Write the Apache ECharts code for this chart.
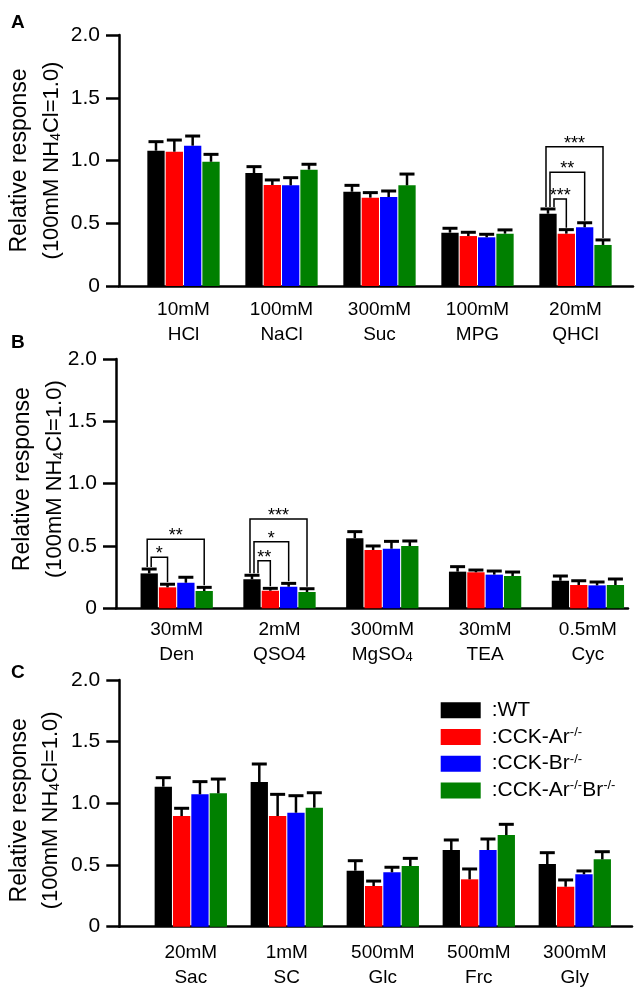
<!DOCTYPE html>
<html><head><meta charset="utf-8">
<script src="https://cdn.jsdelivr.net/npm/echarts@6/dist/echarts.min.js"></script>
<style>html,body{margin:0;padding:0;background:#fff}#c{width:638px;height:993px}</style>
</head><body><div id="c"></div>
<script>
// ---------- DATA ----------
const groupNames = ['WT', 'CCK-Ar-/-', 'CCK-Br-/-', 'CCK-Ar-/-Br-/-'];
const yTickLabels = ['0', '0.5', '1.0', '1.5', '2.0'];

const catsA = ['10mM\nHCl', '100mM\nNaCl', '300mM\nSuc', '100mM\nMPG', '20mM\nQHCl'];
const meansA = [
  [1.078, 0.900, 0.751, 0.425, 0.576],
  [1.070, 0.805, 0.704, 0.398, 0.417],
  [1.118, 0.802, 0.709, 0.388, 0.468],
  [0.990, 0.927, 0.802, 0.417, 0.327]
];
const semA = [
  [0.072, 0.051, 0.051, 0.035, 0.038],
  [0.093, 0.040, 0.040, 0.030, 0.032],
  [0.077, 0.061, 0.048, 0.024, 0.036],
  [0.059, 0.043, 0.090, 0.030, 0.040]
];
// brackets: category index, compared group (vs WT), bracket height, label
const brCatA = [4, 4, 4];
const brGroupA = [3, 2, 1];
const brTopA = [1.11, 0.906, 0.693];
const brLabelA = ['***', '**', '***'];

const catsB = ['30mM\nDen', '2mM\nQSO4', '300mM\nMgSO_4', '30mM\nTEA', '0.5mM\nCyc'];
const meansB = [
  [0.280, 0.233, 0.562, 0.294, 0.221],
  [0.168, 0.141, 0.468, 0.289, 0.187],
  [0.205, 0.173, 0.478, 0.270, 0.184],
  [0.139, 0.131, 0.500, 0.259, 0.187]
];
const semB = [
  [0.035, 0.032, 0.053, 0.040, 0.038],
  [0.025, 0.019, 0.032, 0.018, 0.034],
  [0.044, 0.027, 0.059, 0.029, 0.027],
  [0.029, 0.026, 0.040, 0.032, 0.048]
];
const brCatB = [0, 0, 1, 1, 1];
const brGroupB = [3, 1, 3, 2, 1];
const brTopB = [0.554, 0.409, 0.716, 0.534, 0.382];
const brLabelB = ['**', '*', '***', '*', '**'];

const catsC = ['20mM\nSac', '1mM\nSC', '500mM\nGlc', '500mM\nFrc', '300mM\nGly'];
const meansC = [
  [1.135, 1.173, 0.454, 0.622, 0.508],
  [0.897, 0.897, 0.330, 0.384, 0.324],
  [1.073, 0.924, 0.441, 0.622, 0.425],
  [1.081, 0.965, 0.492, 0.743, 0.546]
];
const semC = [
  [0.073, 0.146, 0.081, 0.081, 0.092],
  [0.063, 0.176, 0.040, 0.084, 0.055],
  [0.103, 0.138, 0.041, 0.089, 0.027],
  [0.116, 0.121, 0.062, 0.087, 0.062]
];

// ---------- STYLE / LAYOUT ----------
const FONT = 'Liberation Sans, Arial, sans-serif';
const COLORS = ['#000000', '#ff0000', '#0000ff', '#008000'];
const BAR_W = 17.3, GAP = 0.06, PITCH = BAR_W * (1 + GAP);

const panels = [
  {letter: 'A', letterTop: 13, cats: catsA, means: meansA, sem: semA,
   br: {cat: brCatA, group: brGroupA, top: brTopA, label: brLabelA},
   frame: {left: 119, right: 5, top: 35, height: 251},
   bars: {left: 134.5, width: 490}, nameGap: 51, namePad: [0, 0, 0, 0], labelMargin: 11},
  {letter: 'B', letterTop: 333, cats: catsB, means: meansB, sem: semB,
   br: {cat: brCatB, group: brGroupB, top: brTopB, label: brLabelB},
   frame: {left: 116, right: 10, top: 359, height: 249.3},
   bars: {left: 125.3, width: 514}, nameGap: 45, namePad: [0, 0, 0, 9], labelMargin: 8.5},
  {letter: 'C', letterTop: 663, cats: catsC, means: meansC, sem: semC, br: null,
   frame: {left: 119.3, right: 6, top: 680, height: 246.7},
   bars: {left: 142.8, width: 480}, nameGap: 52, namePad: [0, 14, 0, 0], labelMargin: 14}
];

const grid = [], xAxis = [], yAxis = [], series = [], title = [];

panels.forEach((p, pi) => {
  const fi = pi * 2, bi = pi * 2 + 1;
  title.push({text: p.letter, left: 11, top: p.letterTop, padding: 0,
    textStyle: {fontSize: 19, fontWeight: 'bold', color: '#000', fontFamily: FONT}});
  grid.push({left: p.frame.left, right: p.frame.right, top: p.frame.top, height: p.frame.height,
    containLabel: false, outerBoundsMode: 'none'});
  grid.push({left: p.bars.left, width: p.bars.width, top: p.frame.top, height: p.frame.height,
    containLabel: false, outerBoundsMode: 'none'});

  xAxis.push({gridIndex: fi, type: 'value', min: 0, max: 1,
    axisLine: {show: true, onZero: false, lineStyle: {color: '#000', width: 2.5}},
    axisTick: {show: false}, axisLabel: {show: false}, splitLine: {show: false}});
  yAxis.push({gridIndex: fi, type: 'value', min: 0, max: 2, interval: 0.5,
    axisLine: {show: true, lineStyle: {color: '#000', width: 2.5}},
    axisTick: {show: true, length: 13, lineStyle: {color: '#000', width: 2.5}},
    axisLabel: {margin: 19, fontSize: 21, color: '#000', fontFamily: FONT,
      formatter: v => yTickLabels[Math.round(v / 0.5)]},
    splitLine: {show: false},
    name: '{a|Relative response}\n{b|(100mM NH}{s|4}{b|Cl=1.0)}',
    nameLocation: 'middle', nameRotate: 90, nameGap: p.nameGap, nameMoveOverlap: false,
    nameTextStyle: {color: '#000', fontFamily: FONT, fontSize: 23, lineHeight: 32, padding: p.namePad,
      rich: {
        a: {fontSize: 23, lineHeight: 32, fontFamily: FONT, color: '#000'},
        b: {fontSize: 22, lineHeight: 32, fontFamily: FONT, color: '#000'},
        s: {fontSize: 14, lineHeight: 14, verticalAlign: 'bottom', padding: [0, 0, 5, 0], fontFamily: FONT, color: '#000'}
      }}});

  xAxis.push({gridIndex: bi, type: 'category', data: p.cats,
    axisLine: {show: false}, axisTick: {show: false}, splitLine: {show: false},
    axisLabel: {interval: 0, margin: p.labelMargin, fontSize: 19, lineHeight: 25, color: '#000', fontFamily: FONT,
      formatter: s => s.replace(/_(\d)/g, '{sub|$1}'),
      rich: {sub: {fontSize: 13, lineHeight: 13, verticalAlign: 'bottom', padding: [0, 0, 3, 0], fontFamily: FONT, color: '#000'}}}});
  yAxis.push({gridIndex: bi, type: 'value', min: 0, max: 2, show: false});

  groupNames.forEach((g, gi) => {
    series.push({type: 'bar', name: g, xAxisIndex: bi, yAxisIndex: bi,
      data: p.means[gi], barWidth: BAR_W, barGap: (GAP * 100) + '%',
      itemStyle: {color: COLORS[gi]}, z: 2, animation: false});
  });

  // error bars (upper only)
  const errData = [];
  p.means.forEach((arr, gi) => arr.forEach((m, ci) => errData.push([ci, m, p.sem[gi][ci], gi])));
  series.push({type: 'custom', xAxisIndex: bi, yAxisIndex: bi, data: errData, z: 3,
    encode: {x: 0, y: 1}, animation: false, silent: true,
    renderItem: (params, api) => {
      const c = api.value(0), m = api.value(1), e = api.value(2), gi = api.value(3);
      const base = api.coord([c, m]), top = api.coord([c, m + e]);
      const x = base[0] + (gi - 1.5) * PITCH;
      return {type: 'group', children: [
        {type: 'line', shape: {x1: x, y1: base[1], x2: x, y2: top[1]}, style: {stroke: '#000', lineWidth: 2.5}},
        {type: 'line', shape: {x1: x - 7.5, y1: top[1], x2: x + 7.5, y2: top[1]}, style: {stroke: '#000', lineWidth: 3}}
      ]};
    }});

  // significance brackets
  if (p.br) {
    const b = p.br;
    const brData = b.cat.map((c, k) => {
      const nest = b.cat.filter((cc, j) => cc === c && b.group[j] > b.group[k]).length;
      const gi = b.group[k];
      return [c, gi, b.top[k], p.means[0][c] + p.sem[0][c], p.means[gi][c] + p.sem[gi][c], nest];
    });
    series.push({type: 'custom', xAxisIndex: bi, yAxisIndex: bi, data: brData, z: 4,
      encode: {x: 0, y: 2}, animation: false, silent: true,
      renderItem: (params, api) => {
        const c = api.value(0), gi = api.value(1), t = api.value(2), lc = api.value(3), rc = api.value(4), nest = api.value(5);
        const cx = api.coord([c, 0])[0];
        const xL = cx - 1.5 * PITCH - 2 + 4 * nest;
        const xR = cx + (gi - 1.5) * PITCH;
        const yT = api.coord([c, t])[1];
        const yL = api.coord([c, lc])[1] - 2;
        const yR = api.coord([c, rc])[1] - 2;
        return {type: 'group', children: [
          {type: 'polyline', shape: {points: [[xL, yL], [xL, yT], [xR, yT], [xR, yR]]},
           style: {stroke: '#000', lineWidth: 1.5, fill: 'none'}},
          {type: 'text', x: (xL + xR) / 2, y: yT + 6,
           style: {text: b.label[params.dataIndex], textAlign: 'center', textVerticalAlign: 'bottom',
             fontSize: 18, fontFamily: FONT, fill: '#000'}}
        ]};
      }});
  }
});

const option = {
  animation: false,
  backgroundColor: '#fff',
  title: title,
  grid: grid, xAxis: xAxis, yAxis: yAxis, series: series,
  legend: {
    data: groupNames, orient: 'vertical', left: 440.7, top: 699.3, padding: 0,
    itemWidth: 40, itemHeight: 16, itemGap: 4.7, icon: 'rect', selectedMode: false,
    formatter: n => '{g| }:' + n.replace(/-\/-/g, '{sup|-/-}'),
    textStyle: {fontSize: 21, lineHeight: 22, color: '#000', fontFamily: FONT,
      rich: {g: {width: 6, fontSize: 21}, sup: {fontSize: 13, lineHeight: 13, verticalAlign: 'top', fontFamily: FONT, color: '#000'}}}
  }
};
const chart = echarts.init(document.getElementById('c'), null, {renderer: 'canvas'});
chart.setOption(option);
</script></body></html>
